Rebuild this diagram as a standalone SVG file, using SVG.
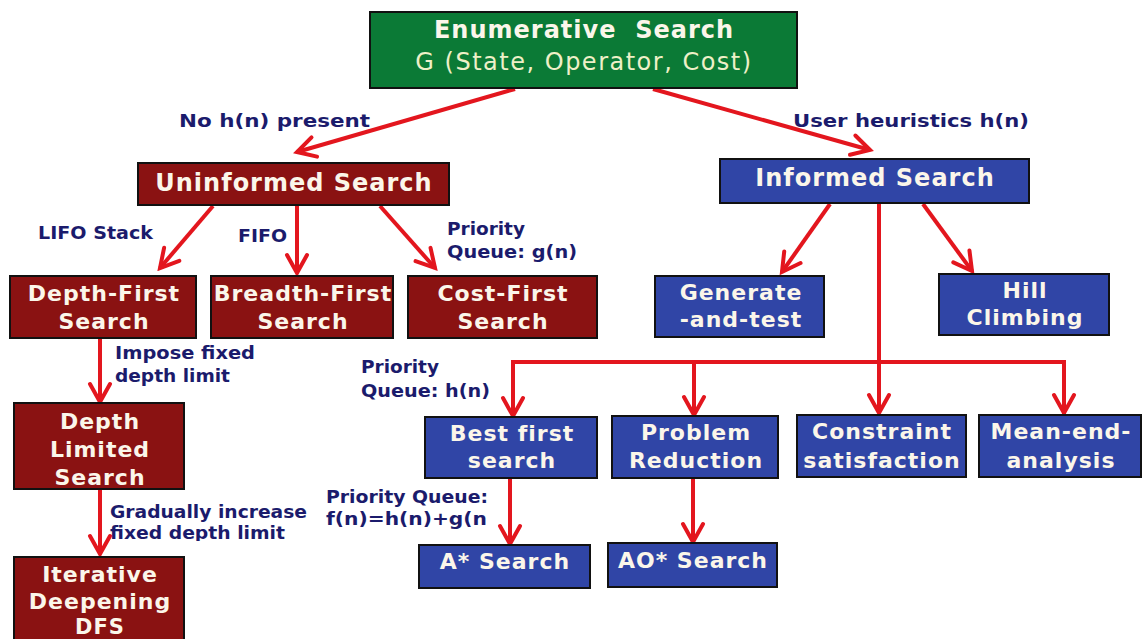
<svg xmlns="http://www.w3.org/2000/svg" width="1144" height="639" viewBox="0 0 1144 639">
  <defs>
    <style>
      .box-green { fill: #0b7a36; stroke: #111; stroke-width: 2; }
      .box-red { fill: #8a1212; stroke: #111; stroke-width: 2; }
      .box-blue { fill: #3045a6; stroke: #111; stroke-width: 2; }
      .t { font-family: "DejaVu Sans", Verdana, sans-serif; font-weight: bold; fill: #fbf6ea; text-anchor: middle; letter-spacing: 1px; }
      .t-cream { font-family: "DejaVu Sans", Verdana, sans-serif; fill: #eef0c8; text-anchor: middle; letter-spacing: 1.5px; }
      .lbl { font-family: "DejaVu Sans", Verdana, sans-serif; font-weight: bold; fill: #1b1b6c; font-size: 18px; }
      .edge { stroke: #e3161e; stroke-width: 4; fill: none; }
      .edge-arrow { stroke: #e3161e; stroke-width: 4; fill: none; marker-end: url(#head); }
    </style>
    <marker id="head" viewBox="0 0 26 26" refX="22" refY="13" markerWidth="26" markerHeight="26" markerUnits="userSpaceOnUse" orient="auto">
      <path d="M4,3 L22,13 L4,23" fill="none" stroke="#e3161e" stroke-width="4" stroke-linecap="round" stroke-linejoin="miter"/>
    </marker>
    <clipPath id="clip-gradual">
      <rect x="100" y="490" width="230" height="51"/>
    </clipPath>
  </defs>

  <rect width="1144" height="639" fill="#ffffff"/>

  <!-- connectors -->
  <g id="connectors">
    <line class="edge-arrow" x1="515" y1="89" x2="297" y2="152"/>
    <line class="edge-arrow" x1="653" y1="89" x2="870" y2="150"/>
    <line class="edge-arrow" x1="213" y1="206" x2="160" y2="268"/>
    <line class="edge-arrow" x1="297" y1="206" x2="297" y2="273"/>
    <line class="edge-arrow" x1="380" y1="206" x2="435" y2="268"/>
    <line class="edge-arrow" x1="100" y1="339" x2="100" y2="402"/>
    <line class="edge-arrow" x1="100" y1="490" x2="100" y2="554"/>
    <line class="edge-arrow" x1="830" y1="204" x2="782" y2="272"/>
    <line class="edge-arrow" x1="923" y1="204" x2="972" y2="271"/>
    <line class="edge" x1="879" y1="204" x2="879" y2="362"/>
    <polyline class="edge" points="513,415 513,362 1064,362 1064,415"/>
    <line class="edge-arrow" x1="513" y1="380" x2="513" y2="416"/>
    <line class="edge-arrow" x1="694" y1="362" x2="694" y2="415"/>
    <line class="edge-arrow" x1="879" y1="362" x2="879" y2="413"/>
    <line class="edge-arrow" x1="1064" y1="380" x2="1064" y2="413"/>
    <line class="edge-arrow" x1="510" y1="479" x2="510" y2="544"/>
    <line class="edge-arrow" x1="693" y1="479" x2="693" y2="542"/>
  </g>

  <!-- edge labels (stretched to the wide sans widths) -->
  <g id="labels">
    <text class="lbl" x="179" y="127" textLength="191" lengthAdjust="spacingAndGlyphs">No h(n) present</text>
    <text class="lbl" x="793" y="127" textLength="236" lengthAdjust="spacingAndGlyphs">User heuristics h(n)</text>
    <text class="lbl" x="38" y="239" textLength="115" lengthAdjust="spacingAndGlyphs">LIFO Stack</text>
    <text class="lbl" x="238" y="242" textLength="49" lengthAdjust="spacingAndGlyphs">FIFO</text>
    <text class="lbl" x="447" y="235" textLength="78" lengthAdjust="spacingAndGlyphs">Priority</text>
    <text class="lbl" x="447" y="258" textLength="130" lengthAdjust="spacingAndGlyphs">Queue: g(n)</text>
    <text class="lbl" x="115" y="359" textLength="140" lengthAdjust="spacingAndGlyphs">Impose fixed</text>
    <text class="lbl" x="115" y="382" textLength="115" lengthAdjust="spacingAndGlyphs">depth limit</text>
    <text class="lbl" x="361" y="373" textLength="78" lengthAdjust="spacingAndGlyphs">Priority</text>
    <text class="lbl" x="361" y="397" textLength="129" lengthAdjust="spacingAndGlyphs">Queue: h(n)</text>
    <text class="lbl" x="326" y="503" textLength="162" lengthAdjust="spacingAndGlyphs">Priority Queue:</text>
    <text class="lbl" x="326" y="525" textLength="161" lengthAdjust="spacingAndGlyphs">f(n)=h(n)+g(n</text>
    <g clip-path="url(#clip-gradual)">
      <text class="lbl" x="110" y="518" textLength="197" lengthAdjust="spacingAndGlyphs">Gradually increase</text>
      <text class="lbl" x="110" y="539" textLength="175" lengthAdjust="spacingAndGlyphs">fixed depth limit</text>
    </g>
  </g>

  <!-- nodes -->
  <g id="enumerative">
    <rect class="box-green" x="370" y="12" width="427" height="76"/>
    <text class="t" x="584" y="38" font-size="24">Enumerative&#160; Search</text>
    <text class="t-cream" x="584" y="70" font-size="24">G (State, Operator, Cost)</text>
  </g>

  <g id="uninformed">
    <rect class="box-red" x="138" y="163" width="311" height="42"/>
    <text class="t" x="294" y="191" font-size="24">Uninformed Search</text>
  </g>

  <g id="informed">
    <rect class="box-blue" x="720" y="159" width="309" height="44"/>
    <text class="t" x="875" y="186" font-size="24">Informed Search</text>
  </g>

  <g id="depth-first">
    <rect class="box-red" x="10" y="276" width="186" height="62"/>
    <text class="t" x="104" y="301" font-size="22">Depth-First</text>
    <text class="t" x="104" y="329" font-size="22">Search</text>
  </g>

  <g id="breadth-first">
    <rect class="box-red" x="211" y="276" width="182" height="62"/>
    <text class="t" x="303" y="301" font-size="22">Breadth-First</text>
    <text class="t" x="303" y="329" font-size="22">Search</text>
  </g>

  <g id="cost-first">
    <rect class="box-red" x="408" y="276" width="189" height="62"/>
    <text class="t" x="503" y="301" font-size="22">Cost-First</text>
    <text class="t" x="503" y="329" font-size="22">Search</text>
  </g>

  <g id="generate-and-test">
    <rect class="box-blue" x="655" y="276" width="169" height="61"/>
    <text class="t" x="741" y="300" font-size="22">Generate</text>
    <text class="t" x="741" y="327" font-size="22">-and-test</text>
  </g>

  <g id="hill-climbing">
    <rect class="box-blue" x="939" y="274" width="170" height="61"/>
    <text class="t" x="1025" y="298" font-size="22">Hill</text>
    <text class="t" x="1025" y="325" font-size="22">Climbing</text>
  </g>

  <g id="depth-limited">
    <rect class="box-red" x="14" y="403" width="170" height="86"/>
    <text class="t" x="100" y="429" font-size="22">Depth</text>
    <text class="t" x="100" y="457" font-size="22">Limited</text>
    <text class="t" x="100" y="485" font-size="22">Search</text>
  </g>

  <g id="iterative-deepening">
    <rect class="box-red" x="14" y="557" width="170" height="100"/>
    <text class="t" x="100" y="582" font-size="22">Iterative</text>
    <text class="t" x="100" y="609" font-size="22">Deepening</text>
    <text class="t" x="100" y="634" font-size="21">DFS</text>
  </g>

  <g id="best-first">
    <rect class="box-blue" x="425" y="417" width="172" height="61"/>
    <text class="t" x="512" y="441" font-size="22">Best first</text>
    <text class="t" x="512" y="468" font-size="22">search</text>
  </g>

  <g id="problem-reduction">
    <rect class="box-blue" x="612" y="416" width="166" height="62"/>
    <text class="t" x="696" y="440" font-size="22">Problem</text>
    <text class="t" x="696" y="468" font-size="22">Reduction</text>
  </g>

  <g id="constraint-satisfaction">
    <rect class="box-blue" x="797" y="415" width="169" height="62"/>
    <text class="t" x="882" y="439" font-size="22">Constraint</text>
    <text class="t" x="882" y="468" font-size="22">satisfaction</text>
  </g>

  <g id="mean-end-analysis">
    <rect class="box-blue" x="979" y="415" width="162" height="62"/>
    <text class="t" x="1061" y="439" font-size="22">Mean-end-</text>
    <text class="t" x="1061" y="468" font-size="22">analysis</text>
  </g>

  <g id="a-star">
    <rect class="box-blue" x="419" y="545" width="171" height="43"/>
    <text class="t" x="505" y="569" font-size="22">A* Search</text>
  </g>

  <g id="ao-star">
    <rect class="box-blue" x="608" y="543" width="169" height="44"/>
    <text class="t" x="693" y="568" font-size="22">AO* Search</text>
  </g>
</svg>
